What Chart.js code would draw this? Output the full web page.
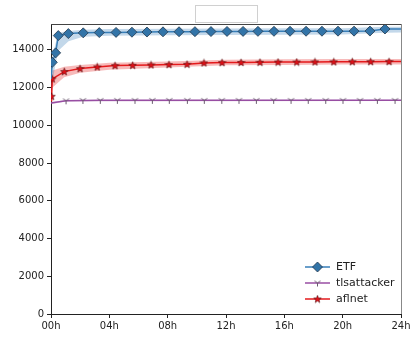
<!DOCTYPE html>
<html>
<head>
<meta charset="utf-8">
<script src="https://cdn.jsdelivr.net/npm/chart.js@4.4.1/dist/chart.umd.min.js"></script>
<style>
  html, body { margin: 0; padding: 0; background: #fff; }
  #wrap { width: 411px; height: 340px; }
</style>
</head>
<body>
<div id="wrap"><canvas id="c" width="411" height="340"></canvas></div>
<script>
//  DATA
var xTickLabels = ["00h", "04h", "08h", "12h", "16h", "20h", "24h"];
var yTicks = [0, 2000, 4000, 6000, 8000, 10000, 12000, 14000];

// ETF (hours, values)
var etfHours = [0, 0.09, 0.32, 0.5, 1.19, 2.21, 3.31, 4.46, 5.55, 6.58, 7.68, 8.78, 9.87, 10.97, 12.07, 13.17, 14.19, 15.29, 16.39, 17.49, 18.58, 19.68, 20.78, 21.87, 22.9, 24];
var etfVals  = [12450, 13340, 13840, 14756, 14862, 14900, 14915, 14925, 14935, 14945, 14955, 14960, 14965, 14970, 14975, 14978, 14980, 14983, 14985, 14986, 14988, 14990, 14992, 14995, 15105, 15110];
var etfMark  = [0, 1, 1, 1, 1, 1, 1, 1, 1, 1, 1, 1, 1, 1, 1, 1, 1, 1, 1, 1, 1, 1, 1, 1, 1, 0];
var etfBandHours = [0, 0.3, 0.5, 1.2, 2.2, 4, 8, 12, 16, 20, 22.9, 24];
var etfUpper = [13400, 14300, 14900, 15000, 15060, 15100, 15120, 15130, 15140, 15150, 15220, 15230];
var etfLower = [11900, 13200, 13950, 14450, 14700, 14750, 14770, 14790, 14800, 14820, 14900, 14920];

// tlsattacker
var tlsHours = [0, 1.03, 2.19, 3.38, 4.55, 5.76, 6.95, 8.11, 9.35, 10.51, 11.71, 12.89, 14.08, 15.27, 16.46, 17.64, 18.84, 20.02, 21.19, 22.38, 23.59, 24];
var tlsVals  = [11180, 11300, 11320, 11325, 11325, 11325, 11325, 11325, 11325, 11325, 11325, 11325, 11325, 11325, 11325, 11325, 11325, 11325, 11325, 11325, 11325, 11325];
var tlsMark  = [0, 1, 1, 1, 1, 1, 1, 1, 1, 1, 1, 1, 1, 1, 1, 1, 1, 1, 1, 1, 1, 0];
var tlsBandHours = [0, 1, 24];
var tlsUpper = [11240, 11340, 11360];
var tlsLower = [11120, 11260, 11290];

// aflnet
var aflHours = [0, 0.04, 0.09, 0.91, 1.99, 3.17, 4.39, 5.6, 6.86, 8.09, 9.33, 10.49, 11.73, 13.03, 14.33, 15.57, 16.85, 18.1, 19.39, 20.66, 21.92, 23.18, 24];
var aflVals  = [11300, 11540, 12460, 12847, 13006, 13096, 13165, 13181, 13202, 13218, 13234, 13308, 13324, 13330, 13340, 13350, 13355, 13360, 13365, 13370, 13375, 13377, 13377];
var aflMark  = [0, 1, 1, 1, 1, 1, 1, 1, 1, 1, 1, 1, 1, 1, 1, 1, 1, 1, 1, 1, 1, 1, 0];
var aflBandHours = [0, 0.1, 0.9, 2, 4, 8, 12, 16, 20, 24];
var aflUpper = [12000, 12900, 13100, 13200, 13320, 13380, 13480, 13500, 13510, 13520];
var aflLower = [11000, 12000, 12550, 12780, 12950, 13060, 13180, 13200, 13220, 13230];

//  HELPERS
function pts(xs, ys) {
  var out = [];
  for (var i = 0; i < xs.length; i++) out.push({ x: xs[i], y: ys[i] });
  return out;
}

function radii(mask, r) {
  var out = [];
  for (var i = 0; i < mask.length; i++) out.push(mask[i] ? r : 0);
  return out;
}

// tri_down marker
function makeTri() {
  var c = document.createElement("canvas");
  c.width = 9; c.height = 9;
  var g = c.getContext("2d");
  g.strokeStyle = "#6a5a6e";
  g.lineWidth = 1;
  g.beginPath();
  g.moveTo(4.5, 4.5); g.lineTo(4.5, 8);
  g.moveTo(4.5, 4.5); g.lineTo(1.5, 2.5);
  g.moveTo(4.5, 4.5); g.lineTo(7.5, 2.5);
  g.stroke();
  return c;
}

// filled 5-point star marker
function makeStar() {
  var c = document.createElement("canvas");
  c.width = 9; c.height = 9;
  var g = c.getContext("2d");
  var cx = 4.5, cy = 4.8, ro = 4.0, ri = 1.7;
  g.beginPath();
  for (var i = 0; i < 10; i++) {
    var a = -Math.PI / 2 + i * Math.PI / 5;
    var r = i % 2 === 0 ? ro : ri;
    var px = cx + Math.cos(a) * r, py = cy + Math.sin(a) * r;
    if (i === 0) g.moveTo(px, py); else g.lineTo(px, py);
  }
  g.closePath();
  g.fillStyle = "#e01018";
  g.fill();
  g.strokeStyle = "#3a0808";
  g.lineWidth = 0.5;
  g.stroke();
  return c;
}

var triImg = makeTri();
var starImg = makeStar();

var BLUE = "#377eb8";
var PURPLE = "#984ea3";
var RED = "#e41a1c";

function band(xs, ys, color, fill) {
  return {
    data: pts(xs, ys),
    borderWidth: 0,
    borderColor: "rgba(0,0,0,0)",
    backgroundColor: color,
    pointRadius: 0,
    fill: fill,
    order: 5,
    tension: 0,
  };
}

//  PLUGINS
var extras = {
  id: "extras",
  afterDraw: function (chart) {
    var ctx = chart.ctx;
    var a = chart.chartArea;
    ctx.save();
    // top + right spines
    ctx.strokeStyle = "#444";
    ctx.lineWidth = 1;
    ctx.beginPath();
    ctx.moveTo(a.left, Math.round(a.top) + 0.5);
    ctx.lineTo(a.right, Math.round(a.top) + 0.5);
    ctx.stroke();
    ctx.strokeStyle = "#888";
    ctx.beginPath();
    ctx.moveTo(Math.round(a.right) + 0.5, a.top);
    ctx.lineTo(Math.round(a.right) + 0.5, a.bottom);
    ctx.stroke();

    // empty box at top
    ctx.fillStyle = "#fff";
    ctx.strokeStyle = "#d0d0d0";
    ctx.fillRect(195.5, 5.5, 62, 17);
    ctx.strokeRect(195.5, 5.5, 62, 17);

    // legend
    var rows = [
      { label: "ETF", color: BLUE, kind: "diamond" },
      { label: "tlsattacker", color: PURPLE, kind: "tri" },
      { label: "aflnet", color: RED, kind: "star" },
    ];
    ctx.font = "11px 'DejaVu Sans'";
    ctx.textBaseline = "middle";
    for (var i = 0; i < rows.length; i++) {
      var y = 267 + i * 16;
      ctx.strokeStyle = rows[i].color;
      ctx.lineWidth = 1.5;
      ctx.beginPath();
      ctx.moveTo(305, y);
      ctx.lineTo(330, y);
      ctx.stroke();
      if (rows[i].kind === "diamond") {
        ctx.fillStyle = "#3274a8";
        ctx.strokeStyle = "#24384c";
        ctx.lineWidth = 0.8;
        ctx.beginPath();
        ctx.moveTo(317.5, y - 5);
        ctx.lineTo(322.5, y);
        ctx.lineTo(317.5, y + 5);
        ctx.lineTo(312.5, y);
        ctx.closePath();
        ctx.fill();
        ctx.stroke();
      } else if (rows[i].kind === "tri") {
        ctx.drawImage(triImg, 313, y - 4.5);
      } else {
        ctx.drawImage(starImg, 313, y - 4.5);
      }
      ctx.fillStyle = "#222";
      ctx.fillText(rows[i].label, 336, y + 0.5);
    }
    ctx.restore();
  },
};

//  CHART
Chart.defaults.font.family = "'DejaVu Sans', sans-serif";
Chart.defaults.font.size = 10;
Chart.defaults.color = "#222";

new Chart(document.getElementById("c"), {
  type: "line",
  data: {
    datasets: [
      {
        label: "ETF",
        data: pts(etfHours, etfVals),
        borderColor: BLUE,
        borderWidth: 1.5,
        pointStyle: "rectRot",
        pointRadius: radii(etfMark, 5),
        pointBackgroundColor: "#3274a8",
        pointBorderColor: "#24384c",
        pointBorderWidth: 0.8,
        fill: false,
        order: 1,
        tension: 0,
      },
      {
        label: "tlsattacker",
        data: pts(tlsHours, tlsVals),
        borderColor: PURPLE,
        borderWidth: 1.5,
        pointStyle: triImg,
        pointRadius: radii(tlsMark, 4),
        fill: false,
        order: 2,
        tension: 0,
      },
      {
        label: "aflnet",
        data: pts(aflHours, aflVals),
        borderColor: RED,
        borderWidth: 1.5,
        pointStyle: starImg,
        pointRadius: radii(aflMark, 4),
        fill: false,
        order: 2,
        tension: 0,
      },
      band(etfBandHours, etfUpper, "rgba(55,126,184,0.3)", "+1"),
      band(etfBandHours, etfLower, "rgba(55,126,184,0.3)", false),
      band(tlsBandHours, tlsUpper, "rgba(152,78,163,0.3)", "+1"),
      band(tlsBandHours, tlsLower, "rgba(152,78,163,0.3)", false),
      band(aflBandHours, aflUpper, "rgba(228,26,28,0.3)", "+1"),
      band(aflBandHours, aflLower, "rgba(228,26,28,0.3)", false),
    ],
  },
  options: {
    responsive: false,
    animation: false,
    layout: { padding: { top: 24, right: 10, left: 0, bottom: 0 } },
    plugins: {
      legend: { display: false },
      tooltip: { enabled: false },
    },
    scales: {
      x: {
        type: "linear",
        min: 0,
        max: 24,
        afterBuildTicks: function (s) {
          s.ticks = [];
          for (var i = 0; i < xTickLabels.length; i++) s.ticks.push({ value: i * 4 });
        },
        ticks: {
          padding: 2,
          maxRotation: 0,
          autoSkip: false,
          callback: function (v, i) { return xTickLabels[i]; },
        },
        grid: { drawOnChartArea: false, color: "#222", tickLength: 4 },
        border: { color: "#222", width: 1 },
        afterFit: function (s) {
          s.height = 26;
          s.paddingRight = 0;
          s.paddingLeft = 0;
        },
      },
      y: {
        min: 0,
        max: 15370,
        afterBuildTicks: function (s) {
          s.ticks = [];
          for (var i = 0; i < yTicks.length; i++) s.ticks.push({ value: yTicks[i] });
        },
        ticks: {
          padding: 3,
          autoSkip: false,
          callback: function (v) { return String(v); },
        },
        grid: { drawOnChartArea: false, color: "#222", tickLength: 4 },
        border: { color: "#222", width: 1 },
        afterFit: function (s) {
          s.width = 51;
          s.paddingTop = 0;
          s.paddingBottom = 0;
        },
      },
    },
  },
  plugins: [extras],
});
</script>
</body>
</html>
